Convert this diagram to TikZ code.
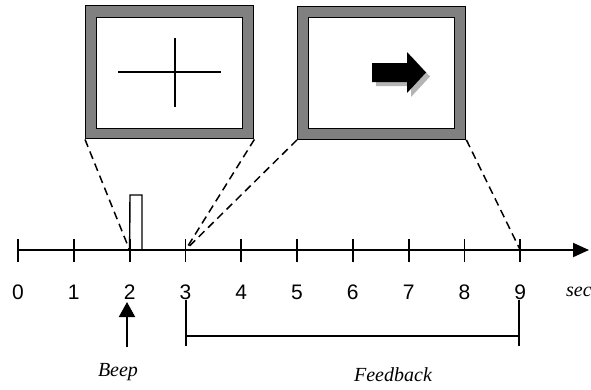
\documentclass[tikz,border=0pt]{standalone}
\usepackage{fontspec}
\setmainfont{Liberation Serif}
\setsansfont{Liberation Sans}
\usetikzlibrary{arrows.meta}
\definecolor{framegray}{RGB}{128,128,128}
\definecolor{shadowgray}{RGB}{180,180,180}
\begin{document}
\begin{tikzpicture}[x=1pt,y=-1pt,
  screen/.style={draw=black, line width=1.4pt, fill=framegray, minimum width=168pt,
    minimum height=133pt, inner sep=0pt, anchor=north west},
  display/.style={draw=black, line width=1.4pt, fill=white, minimum width=146pt,
    minimum height=111pt, inner sep=0pt, anchor=north west},
  axisline/.style={line width=2pt},
  tickmark/.style={line width=1.8pt},
  zoomline/.style={line width=1.5pt, dash pattern=on 8pt off 5pt},
  ticklabel/.style={font=\sffamily\fontsize{21}{21}\selectfont, inner sep=0pt},
  caption/.style={font=\itshape\fontsize{20}{20}\selectfont, inner sep=0pt},
  bracket/.style={line width=1.4pt}]
\useasboundingbox (0,0) rectangle (591,389);

% fixation screen
\node[screen] (s1) at (85,5) {};
\node[display] (d1) at (96,16.5) {};
\draw[line width=1.8pt] (118,72) -- (221,72) (175,38) -- (175,107);

% feedback screen
\node[screen] (s2) at (297,5.5) {};
\node[display] (d2) at (308,17) {};
\fill[shadowgray] (376,67) -- (411,67) -- (411,56) -- (430,76.5) -- (411,97) -- (411,86) -- (376,86) -- cycle;
\fill[black] (372,63) -- (407,63) -- (407,52) -- (426,72.5) -- (407,93) -- (407,82) -- (372,82) -- cycle;

% time axis
\foreach \i in {0,...,9} {
  \coordinate (t\i) at ({18+\i*55.8},250);
  \draw[tickmark] ({18+\i*55.8},239) -- ({18+\i*55.8},262);
  \node[ticklabel] (n\i) at ({18+\i*55.8},292) {\i};
}
\coordinate (axend) at (589,250);
\draw[axisline, -{Triangle[length=16pt,width=14pt]}] (t0) -- (axend);
\node[caption, anchor=west] (unit) at (566,292) {sec};

% beep pulse
\draw[line width=1.4pt] (t2) -- (130,195) -- (142,195) -- (142,250);

% zoom lines from the screens to the axis
\draw[zoomline] (s1.south west) -- (t2);
\draw[zoomline] (s1.south east) -- (t3);
\draw[zoomline] (s2.south west) -- (t3);
\draw[zoomline] (s2.south east) -- (t9);

% beep marker
\coordinate (bp) at (127,347);
\coordinate (bt) at (127,302);
\draw[line width=2pt, -{Triangle[length=15pt,width=16pt]}] (bp) -- (bt);
\node[caption] (beep) at (118,372) {Beep};

% feedback interval
\coordinate (f1) at (186,300);
\coordinate (f2) at (519,300);
\draw[bracket] (f1) -- (186,346) (186,336) -- (519,336) (f2) -- (519,346);
\node[caption] (fb) at (393,375) {Feedback};
\end{tikzpicture}
\end{document}
